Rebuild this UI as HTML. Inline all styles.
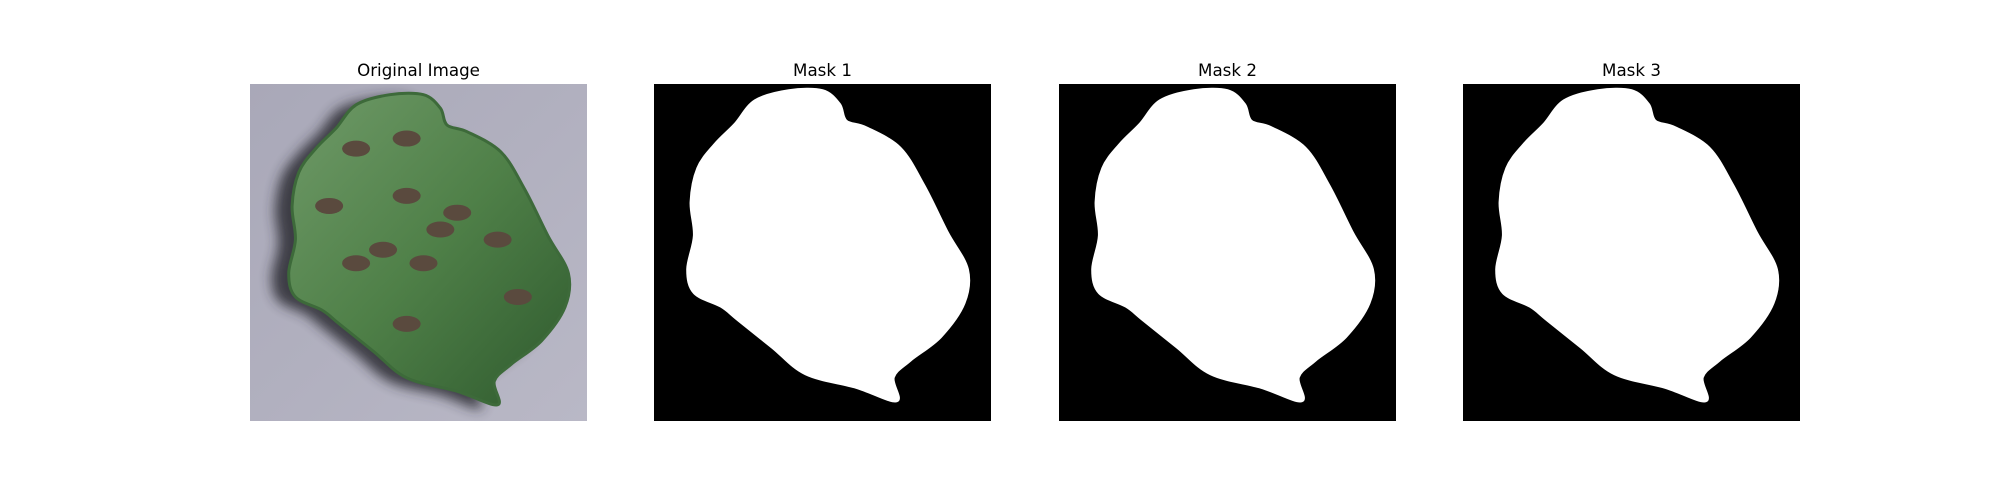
<!DOCTYPE html>
<html><head><meta charset="utf-8"><style>
html,body{margin:0;padding:0;background:#fff;}
svg{display:block;font-family:"DejaVu Sans","Liberation Sans",sans-serif;}
</style></head><body>
<svg id="fig" width="2000" height="500" viewBox="0 0 2000 500">
<defs>
<filter id="blur"><feGaussianBlur stdDeviation="6"/></filter>
<linearGradient id="leafg" x1="0" y1="0" x2="1" y2="1">
<stop offset="0" stop-color="#6f9a68"/><stop offset="0.5" stop-color="#4f8048"/><stop offset="1" stop-color="#2f5a2e"/></linearGradient>
<linearGradient id="bgg" x1="0" y1="0" x2="1" y2="1">
<stop offset="0" stop-color="#a9a8b8"/><stop offset="1" stop-color="#b9b8c6"/></linearGradient>
</defs>
<g id="panels"></g>
</svg>
<script>
const titles=["Original Image","Mask 1","Mask 2","Mask 3"];
const panelX=[250,654,1059,1463];
const size=337, top0=84;
const shape=[[0.24,0.12],[0.30,0.05],[0.40,0.02],[0.50,0.02],[0.55,0.06],[0.57,0.11],[0.63,0.13],[0.73,0.19],[0.80,0.30],[0.87,0.44],[0.93,0.55],[0.92,0.65],[0.85,0.75],[0.76,0.82],[0.71,0.87],[0.72,0.94],[0.60,0.90],[0.45,0.86],[0.35,0.78],[0.25,0.70],[0.20,0.66],[0.12,0.62],[0.10,0.55],[0.12,0.45],[0.11,0.35],[0.13,0.25],[0.18,0.18]];
const spots=[[0.3,0.18],[0.45,0.15],[0.22,0.35],[0.45,0.32],[0.6,0.37],[0.38,0.48],[0.5,0.52],[0.3,0.52],[0.72,0.45],[0.78,0.62],[0.45,0.7],[0.55,0.42]];
const NS="http://www.w3.org/2000/svg";
const g=document.getElementById('panels');
function pathFor(dx,dy,s){
 const P=shape.map(p=>[dx+p[0]*s,dy+p[1]*s]);const n=P.length;
 let d='M'+P[0][0].toFixed(1)+','+P[0][1].toFixed(1);
 for(let i=0;i<n;i++){
  const p0=P[(i-1+n)%n],p1=P[i],p2=P[(i+1)%n],p3=P[(i+2)%n];
  const c1=[p1[0]+(p2[0]-p0[0])/6,p1[1]+(p2[1]-p0[1])/6];
  const c2=[p2[0]-(p3[0]-p1[0])/6,p2[1]-(p3[1]-p1[1])/6];
  d+='C'+c1.map(v=>v.toFixed(1)).join(',')+' '+c2.map(v=>v.toFixed(1)).join(',')+' '+p2.map(v=>v.toFixed(1)).join(',');
 }
 return d+'Z';
}
titles.forEach((t,i)=>{
 const x=panelX[i];
 const grp=document.createElementNS(NS,'g');
 
 
 g.appendChild(grp);
 const r=document.createElementNS(NS,'rect');
 r.setAttribute('x',x);r.setAttribute('y',top0);r.setAttribute('width',size);r.setAttribute('height',size);
 r.setAttribute('fill',i==0?'url(#bgg)':'#000');
 
 
 grp.appendChild(r);
 if(i==0){
  const sh=document.createElementNS(NS,'path');
  sh.setAttribute('d',pathFor(x-12,top0+8,size));
  sh.setAttribute('fill','#2a2a30');sh.setAttribute('filter','url(#blur)');sh.setAttribute('opacity','0.85');
  
  
  grp.appendChild(sh);
 }
 const lf=document.createElementNS(NS,'path');
 const off=i==0?{dx:x+5,dy:top0+4}:{dx:x,dy:top0};
 lf.setAttribute('d',pathFor(off.dx,off.dy,size));
 lf.setAttribute('fill',i==0?'url(#leafg)':'#fff');
 lf.setAttribute('stroke',i==0?'#3d6a3a':'#fff');lf.setAttribute('stroke-width','3');lf.setAttribute('stroke-linejoin','round');
 
 
 grp.appendChild(lf);
 if(i==0){
  spots.forEach(p=>{
   const e=document.createElementNS(NS,'ellipse');
   e.setAttribute('cx',off.dx+p[0]*size);e.setAttribute('cy',off.dy+p[1]*size);
   e.setAttribute('rx',14);e.setAttribute('ry',8);e.setAttribute('fill','#5a4a3e');
   
   
   grp.appendChild(e);
  });
 }
 const tx=document.createElementNS(NS,'text');
 tx.setAttribute('x',x+size/2);tx.setAttribute('y',top0-8);tx.setAttribute('text-anchor','middle');
 tx.setAttribute('font-size','16.7');tx.setAttribute('fill','#000');
 tx.textContent=t;
 
 
 grp.appendChild(tx);
});
</script>
</body></html>
